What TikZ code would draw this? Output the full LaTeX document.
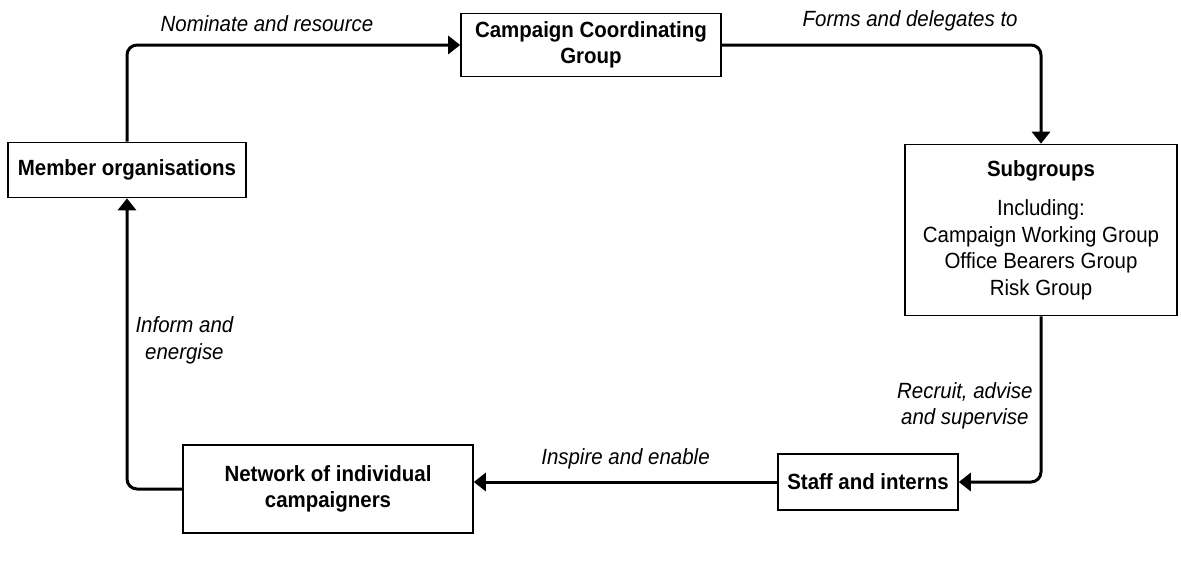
\documentclass[tikz,border=0pt]{standalone}
\usepackage{fontspec}
\setmainfont{Liberation Sans}[FakeStretch = 0.93]
\usetikzlibrary{arrows.meta}

\newcommand{\sz}{\fontsize{22}{26.5}\selectfont}

\begin{document}
\begin{tikzpicture}[x = 1pt, y = -1pt,
		box/.style = {draw, line width = 1.6pt, align = center, inner sep = 2pt, font = \sz\bfseries},
		flow/.style = {line width = 3pt, rounded corners = 10pt, -{Triangle[length = 12pt, width = 18pt]}},
		lbl/.style = {font = \sz\itshape, align = center, inner sep = 2pt}]
	\useasboundingbox (0,0) rectangle (1181,562);

	\begin{scope}
		\node [box, minimum width = 238pt, minimum height = 55pt] (member) at (127,170) {Member organisations};
		\node [box, minimum width = 260pt, minimum height = 63pt] (ccg) at (591,45) {Campaign Coordinating\\Group};
		\node [box, minimum width = 272pt, minimum height = 171pt, font = \sz] (sub) at (1041,230)
			{\textbf{Subgroups}\\[13pt] Including:\\Campaign Working Group\\Office Bearers Group\\Risk Group};
		\node [box, minimum width = 180pt, minimum height = 56pt] (staff) at (868,482) {Staff and interns};
		\node [box, minimum width = 290pt, minimum height = 88pt] (net) at (328,489) {Network of individual\\campaigners};
	\end{scope}

	\begin{scope}
		\draw [flow] (member.north) |- (ccg.west) node [lbl, pos = 0.71, above = 10pt] (nominate) {Nominate and resource};
		\draw [flow] (ccg.east) -| (sub.north) node [lbl, pos = 0.295, above = 10pt] (forms) {Forms and delegates to};
		\draw [flow] (sub.south) |- (staff.east) node [lbl, pos = 0.27, left = 5pt] (recruit) {Recruit, advise\\and supervise};
		\draw [flow] (staff.west) -- (staff.west -| net.east) node [lbl, pos = 0.5, above = 9pt] (inspire) {Inspire and enable};
		\draw [flow] (net.west) -| (member.south) node [lbl, pos = 0.756, right = 5pt] (inform) {Inform and\\energise};
	\end{scope}
\end{tikzpicture}
\end{document}
